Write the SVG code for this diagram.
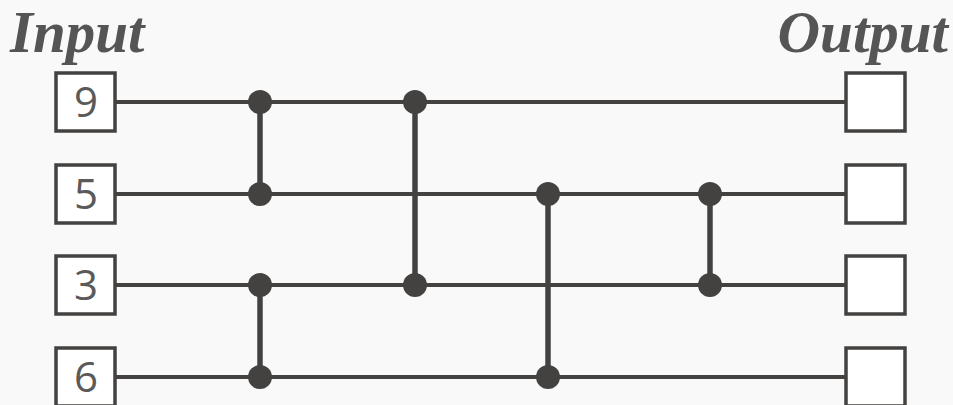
<svg xmlns="http://www.w3.org/2000/svg" width="953" height="405" viewBox="0 0 953 405">
<style>
.title{font-family:"Liberation Serif",serif;font-weight:bold;font-style:italic;font-size:59px;fill:#555555}
.box{fill:#ffffff;stroke:#444240;stroke-width:3.5}
.num{font-family:"Open Sans","DejaVu Sans",sans-serif;font-size:42px;fill:#5a5a5a;text-anchor:middle}
.wire{stroke:#444240;stroke-width:4;fill:none}
.rung{stroke:#444240;stroke-width:5.5;fill:none}
.dot{fill:#444240}
</style>
<rect width="953" height="405" fill="#f9f9f9"/>
<text class="title" x="10" y="52">Input</text>
<text class="title" x="948" y="52" text-anchor="end">Output</text>
<g id="connectors">
<line class="wire" x1="115" y1="102" x2="846" y2="102"/>
<line class="wire" x1="115" y1="194" x2="846" y2="194"/>
<line class="wire" x1="115" y1="285" x2="846" y2="285"/>
<line class="wire" x1="115" y1="377" x2="846" y2="377"/>
<line class="rung" x1="260" y1="102" x2="260" y2="194"/>
<line class="rung" x1="260" y1="285" x2="260" y2="377"/>
<line class="rung" x1="415" y1="102" x2="415" y2="285"/>
<line class="rung" x1="548" y1="194" x2="548" y2="377"/>
<line class="rung" x1="710" y1="194" x2="710" y2="285"/>
<circle class="dot" cx="260" cy="102" r="12"/>
<circle class="dot" cx="260" cy="194" r="12"/>
<circle class="dot" cx="260" cy="285" r="12"/>
<circle class="dot" cx="260" cy="377" r="12"/>
<circle class="dot" cx="415" cy="102" r="12"/>
<circle class="dot" cx="415" cy="285" r="12"/>
<circle class="dot" cx="548" cy="194" r="12"/>
<circle class="dot" cx="548" cy="377" r="12"/>
<circle class="dot" cx="710" cy="194" r="12"/>
<circle class="dot" cx="710" cy="285" r="12"/>
</g>
<g id="in1"><rect class="box" x="56" y="73" width="59" height="58"/><text class="num" x="86" y="117">9</text></g>
<g id="in2"><rect class="box" x="56" y="165" width="59" height="58"/><text class="num" x="86" y="209">5</text></g>
<g id="in3"><rect class="box" x="56" y="256" width="59" height="58"/><text class="num" x="86" y="300">3</text></g>
<g id="in4"><rect class="box" x="56" y="348" width="59" height="58"/><text class="num" x="86" y="392">6</text></g>
<g id="out1"><rect class="box" x="846" y="73" width="59" height="58"/></g>
<g id="out2"><rect class="box" x="846" y="165" width="59" height="58"/></g>
<g id="out3"><rect class="box" x="846" y="256" width="59" height="58"/></g>
<g id="out4"><rect class="box" x="846" y="348" width="59" height="58"/></g>
</svg>
